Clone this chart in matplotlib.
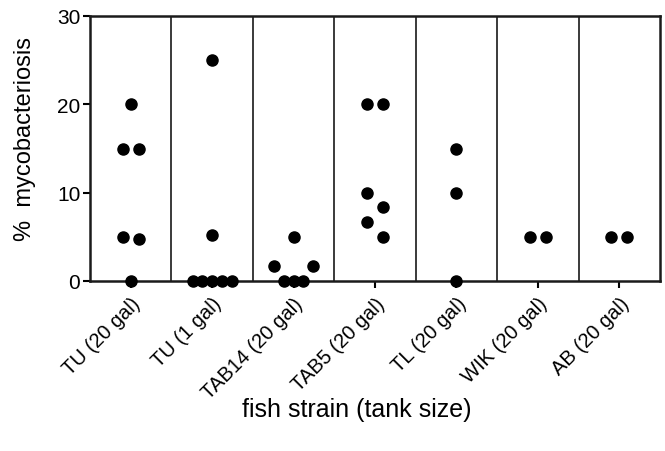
import matplotlib
matplotlib.use("Agg")
import matplotlib.pyplot as plt
import numpy as np

plt.rcParams['font.family'] = ['Liberation Sans', 'DejaVu Sans']

# percent mycobacteriosis per tank, by strain
strains = ["TU (20 gal)", "TU (1 gal)", "TAB14 (20 gal)", "TAB5 (20 gal)",
           "TL (20 gal)", "WIK (20 gal)", "AB (20 gal)"]
tu20 = [20, 15, 15, 5, 4.76, 0]
tu1 = [25, 5.26, 0, 0, 0, 0, 0]
tab14 = [5, 1.67, 1.67, 0, 0, 0]
tab5 = [20, 20, 10, 8.33, 6.67, 5]
tl = [15, 10, 0]
wik = [5, 5]
ab = [5, 5]
groups = [tu20, tu1, tab14, tab5, tl, wik, ab]

y_ticks = [0, 10, 20, 30]


def swarm_offsets(values, bin_w=3.4):
    """spread points that fall in the same value bin (GraphPad-like)"""
    vals = np.asarray(values, dtype=float)
    bins = np.floor(vals / bin_w).astype(int)
    offs = np.zeros(len(vals))
    for b in np.unique(bins):
        idx = np.where(bins == b)[0]
        idx = idx[np.argsort(vals[idx], kind="stable")]
        n = len(idx)
        if n == 1:
            continue
        if n == 2:
            offs[idx[0]] = 0.1
            offs[idx[1]] = -0.1
            continue
        slots = [0]
        k = 1
        while len(slots) < n:
            slots += [k, -k]
            k += 1
        for i, s in zip(idx, slots[:n]):
            offs[i] = s * 0.12
    return offs


fig = plt.figure(figsize=(6.65, 4.52), dpi=100)
ax = fig.add_axes([90 / 665, 1 - 282 / 452, 570 / 665, 265 / 452])

for i, g in enumerate(groups):
    xs = i + swarm_offsets(g)
    ax.plot(xs, g, 'o', color='black', markersize=8, clip_on=False, zorder=5)

for i in range(len(groups) - 1):
    ax.axvline(i + 0.5, color='#2b2b2b', lw=1.3, zorder=1)

ax.set_xlim(-0.5, len(groups) - 0.5)
ax.set_ylim(0, 30)
ax.set_yticks(y_ticks)
ax.set_xticks(range(len(strains)))
ax.set_xticklabels(strains, rotation=45, ha='right', va='top',
                   rotation_mode='anchor', fontsize=14.5)
ax.tick_params(axis='y', labelsize=15, length=5, width=1.5, direction='out', pad=2)
ax.tick_params(axis='x', length=5, width=1.5, direction='out', pad=4)
for s in ax.spines.values():
    s.set_linewidth(1.8)
    s.set_color('#1a1a1a')

fig.text(25 / 665, 1 - 139 / 452, "%  mycobacteriosis", rotation=90,
         ha='center', va='center', fontsize=17)
fig.text(357 / 665, 1 - 410 / 452, "fish strain (tank size)",
         ha='center', va='center', fontsize=18)

fig.savefig("out.png", dpi=100)
